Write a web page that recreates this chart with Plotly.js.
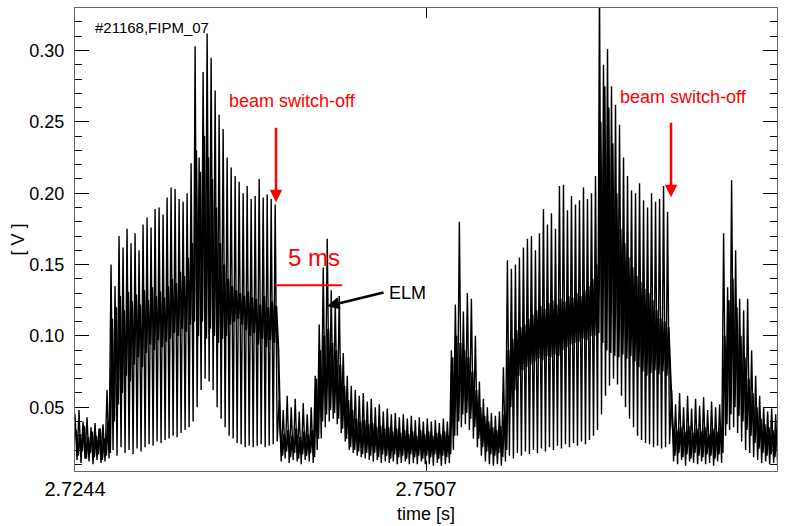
<!DOCTYPE html>
<html>
<head>
<meta charset="utf-8">
<script src="https://cdn.plot.ly/plotly-3.0.1.min.js"></script>
<style>
html,body{margin:0;padding:0;background:#fff;}
#chart{width:796px;height:526px;}
</style>
</head>
<body>
<div id="chart"></div>
<script>
// Sample clock of the digitised FIPM_07 signal (s)
const tStart = 2.7244;
const tStep = 0.0003;

// Large oscillation: spike peaks (V), one per sample
const peakV = [
  0.045,0.048,0.040,0.043,0.036,0.039,0.035,0.038,0.062,
  0.150,0.135,0.170,0.162,0.175,0.165,0.172,0.160,
  0.178,0.183,0.176,0.189,0.190,0.185,
  0.197,0.204,0.203,
  0.196,0.194,0.200,0.221,
  0.303,0.225,0.285,0.312,0.295,0.272,0.255,0.245,0.225,0.218,0.212,0.208,0.200,0.205,0.196,
  0.198,0.210,0.197,0.199,0.196,0.192,
  0.055,0.048,0.058,0.050,0.056,0.047,0.053,0.045,0.050,
  0.072,0.108,0.148,0.168,0.132,0.125,0.128,0.088,0.072,0.065,0.062,0.058,0.060,0.054,
  0.056,0.050,0.052,0.047,0.049,0.045,0.046,0.043,0.045,0.042,0.044,0.041,0.043,0.040,
  0.042,0.040,0.041,0.039,0.042,0.040,
  0.090,0.122,0.180,0.117,0.130,0.126,0.100,0.068,0.056,0.050,0.046,0.044,0.047,0.078,
  0.153,0.147,0.150,0.155,0.162,0.168,0.170,0.160,0.172,0.189,0.178,0.186,0.175,0.205,
  0.206,0.188,0.198,0.192,0.195,0.204,0.196,0.200,0.212,
  0.345,0.290,0.301,0.275,0.262,0.248,0.225,0.212,0.202,0.200,0.207,0.195,0.190,0.200,
  0.194,0.196,0.205,0.187,
  0.062,0.052,0.060,0.050,0.058,0.049,0.056,0.051,0.057,0.048,0.054,0.050,0.052,
  0.172,0.134,0.209,0.160,0.126,0.118,0.126,0.090,0.072,0.058,0.050,0.047,0.049,0.045
];

// Large oscillation: spike troughs (V), one per sample
const troughV = [
  0.013,0.011,0.014,0.012,0.010,0.013,0.011,0.012,0.014,
  0.020,0.016,0.022,0.018,0.020,0.017,0.021,0.019,
  0.022,0.024,0.023,0.026,0.025,0.027,
  0.028,0.030,0.029,
  0.032,0.034,0.036,0.040,
  0.050,0.062,0.070,0.068,0.062,0.050,0.042,0.036,0.030,0.028,0.025,0.024,0.022,0.023,0.022,
  0.023,0.024,0.022,0.023,0.024,0.026,
  0.012,0.014,0.011,0.013,0.012,0.010,0.013,0.012,0.011,
  0.020,0.028,0.036,0.040,0.042,0.038,0.032,0.026,0.020,0.018,0.016,0.015,0.014,0.013,
  0.012,0.013,0.011,0.012,0.011,0.012,0.010,0.011,0.012,0.010,0.011,0.010,0.012,0.010,
  0.010,0.009,0.011,0.009,0.010,0.011,
  0.020,0.030,0.036,0.038,0.034,0.028,0.022,0.016,0.012,0.010,0.009,0.010,0.009,0.012,
  0.016,0.014,0.018,0.016,0.019,0.017,0.020,0.018,0.021,0.019,0.022,0.020,0.023,0.021,
  0.024,0.022,0.025,0.023,0.026,0.024,0.027,0.030,0.034,
  0.045,0.058,0.065,0.070,0.066,0.058,0.050,0.042,0.036,0.030,0.027,0.025,0.024,0.022,
  0.023,0.021,0.022,0.024,
  0.012,0.010,0.013,0.009,0.012,0.011,0.010,0.012,0.010,0.011,0.009,0.012,0.011,
  0.030,0.034,0.036,0.032,0.026,0.020,0.018,0.015,0.013,0.011,0.012,0.010,0.011,0.009
];

// Fast small-amplitude fluctuation (dense core): upper and lower swing (V), one pair per sample
const coreUpV = [
  0.034,0.031,0.037,0.029,0.033,0.030,0.035,0.028,0.040,
  0.112,0.120,0.128,0.118,0.131,0.124,0.129,0.122,
  0.132,0.125,0.134,0.128,0.131,0.127,
  0.135,0.140,0.137,0.145,0.142,0.155,0.165,
  0.230,0.215,0.240,0.225,0.210,0.190,0.165,
  0.150,0.140,0.135,0.132,0.130,0.128,0.131,0.127,
  0.126,0.122,0.128,0.120,0.124,0.121,
  0.036,0.031,0.034,0.030,0.035,0.029,0.033,0.031,0.034,
  0.070,0.090,0.100,0.105,0.095,0.090,0.080,0.065,0.055,0.048,
  0.042,0.040,0.041,0.038,0.039,0.036,0.037,0.035,0.036,0.033,0.035,0.032,
  0.034,0.031,0.033,0.030,0.034,0.031,0.033,0.030,0.032,0.031,0.033,0.030,
  0.085,0.100,0.095,0.090,0.085,0.075,0.062,0.050,0.044,0.040,
  0.036,0.034,0.037,0.045,
  0.090,0.098,0.104,0.106,0.108,0.112,0.115,0.118,0.121,0.119,0.123,0.125,
  0.122,0.126,0.124,0.128,0.127,0.130,0.128,0.132,0.135,0.140,0.150,
  0.250,0.275,0.260,0.235,0.200,0.175,0.165,0.155,0.148,0.142,0.138,0.133,
  0.130,0.125,0.118,0.112,0.110,0.106,
  0.038,0.034,0.036,0.033,0.037,0.032,0.035,0.033,0.036,0.031,0.035,0.033,0.036,
  0.100,0.125,0.140,0.120,0.100,0.085,0.070,0.060,0.050,0.042,0.038,0.036,0.034,0.035
];
const coreDownV = [
  0.016,0.019,0.014,0.018,0.015,0.017,0.013,0.016,0.018,
  0.040,0.052,0.060,0.072,0.068,0.080,0.085,0.078,
  0.088,0.094,0.090,0.097,0.092,0.096,
  0.098,0.102,0.100,0.105,0.103,0.108,0.110,
  0.100,0.110,0.098,0.105,0.100,0.095,0.098,
  0.100,0.108,0.110,0.112,0.108,0.104,0.100,0.102,
  0.094,0.098,0.092,0.097,0.095,0.093,
  0.016,0.019,0.015,0.018,0.014,0.017,0.016,0.018,0.015,
  0.028,0.040,0.045,0.048,0.046,0.042,0.035,0.028,0.022,0.020,
  0.019,0.017,0.018,0.016,0.018,0.015,0.017,0.016,0.014,0.017,0.015,0.016,
  0.014,0.017,0.015,0.016,0.014,0.016,0.015,0.017,0.014,0.016,0.015,0.017,
  0.030,0.040,0.045,0.046,0.042,0.036,0.028,0.022,0.019,0.017,
  0.016,0.018,0.015,0.020,
  0.050,0.062,0.072,0.076,0.078,0.080,0.082,0.084,0.083,0.086,0.085,0.087,
  0.086,0.090,0.092,0.094,0.095,0.096,0.098,0.097,0.100,0.100,0.102,
  0.095,0.090,0.088,0.086,0.085,0.087,0.084,0.086,0.082,0.078,0.075,0.072,
  0.074,0.076,0.073,0.075,0.072,0.070,
  0.016,0.018,0.015,0.017,0.014,0.018,0.016,0.015,0.017,0.016,0.014,0.017,0.018,
  0.038,0.045,0.050,0.044,0.040,0.034,0.030,0.025,0.021,0.018,0.016,0.017,0.015,0.016
];

const xTickVals = [2.7244, 2.7507, 2.777];
const xTickText = ['2.7244', '2.7507', '2.777'];

// Zig-zag traces built from the sampled extremes
const sigT = [], sigV = [], coreT = [], coreV = [];
for (let i = 0; i < peakV.length; i++) {
  const t = tStart + i * tStep;
  sigT.push(t, t + 0.5 * tStep);
  sigV.push(peakV[i], troughV[i]);
  coreT.push(t + 0.25 * tStep, t + 0.75 * tStep);
  coreV.push(coreUpV[i], coreDownV[i]);
}

const traces = [
  {x: coreT, y: coreV, type: 'scatter', mode: 'lines',
   line: {width: 2.1, color: 'black', simplify: false}, hoverinfo: 'skip', showlegend: false},
  {x: sigT, y: sigV, type: 'scatter', mode: 'lines',
   line: {width: 1.4, color: 'black', simplify: false}, showlegend: false, name: 'FIPM_07'}
];

const red = '#ff0000';
const layout = {
  width: 796, height: 526,
  margin: {l: 75, r: 19, t: 8, b: 55},
  paper_bgcolor: '#fff', plot_bgcolor: '#fff',
  font: {family: '"Liberation Sans", Arial, Helvetica, sans-serif', color: '#000'},
  showlegend: false,
  xaxis: {
    range: [2.7244, 2.777], tickvals: xTickVals, ticktext: xTickText,
    ticks: 'inside', ticklen: 10, tickcolor: '#000', mirror: 'ticks',
    showline: true, linecolor: '#666', linewidth: 1,
    showgrid: false, zeroline: false,
    tickfont: {size: 20},
    title: {text: 'time [s]', font: {size: 18}, standoff: 8}
  },
  yaxis: {
    range: [0.0053, 0.3298], tick0: 0, dtick: 0.05, tickformat: '.2f',
    ticks: 'inside', ticklen: 14, tickcolor: '#000', mirror: 'ticks',
    minor: {dtick: 0.01, ticks: 'inside', ticklen: 7, tickcolor: '#000'},
    showline: true, linecolor: '#666', linewidth: 1,
    showgrid: false, zeroline: false,
    tickfont: {size: 18}, ticklabelstandoff: 6,
    title: {text: '[ V ]', font: {size: 18}, standoff: 0}
  },
  shapes: [
    {type: 'line', xref: 'x', yref: 'y', x0: 2.7394, x1: 2.7444, y0: 0.1355, y1: 0.1355,
     line: {color: red, width: 2}}
  ],
  annotations: [
    {x: 2.72575, y: 0.316, xref: 'x', yref: 'y', text: '#21168,FIPM_07', showarrow: false,
     xanchor: 'left', yanchor: 'middle', font: {size: 15, color: '#000'}},
    {x: 2.74066, y: 0.2645, xref: 'x', yref: 'y', text: 'beam switch-off', showarrow: false,
     font: {size: 18, color: red}},
    {x: 2.77003, y: 0.2673, xref: 'x', yref: 'y', text: 'beam switch-off', showarrow: false,
     font: {size: 18, color: red}},
    {x: 2.73946, y: 0.1937, ax: 2.73946, ay: 0.247, xref: 'x', yref: 'y', axref: 'x', ayref: 'y',
     text: '', showarrow: true, arrowhead: 2, arrowsize: 1, arrowwidth: 2.5, arrowcolor: red},
    {x: 2.76906, y: 0.1972, ax: 2.76906, ay: 0.2505, xref: 'x', yref: 'y', axref: 'x', ayref: 'y',
     text: '', showarrow: true, arrowhead: 2, arrowsize: 1, arrowwidth: 2.5, arrowcolor: red},
    {x: 2.74231, y: 0.1552, xref: 'x', yref: 'y', text: '5 ms', showarrow: false,
     font: {size: 24, color: red}},
    {x: 2.74935, y: 0.1299, xref: 'x', yref: 'y', text: 'ELM', showarrow: false,
     font: {size: 18, color: '#000'}},
    {x: 2.74328, y: 0.1208, ax: 2.74763, ay: 0.1306, xref: 'x', yref: 'y', axref: 'x', ayref: 'y',
     text: '', showarrow: true, arrowhead: 2, arrowsize: 1, arrowwidth: 2.5, arrowcolor: '#000'}
  ]
};

Plotly.newPlot('chart', traces, layout, {staticPlot: true, displayModeBar: false});
</script>
</body>
</html>
